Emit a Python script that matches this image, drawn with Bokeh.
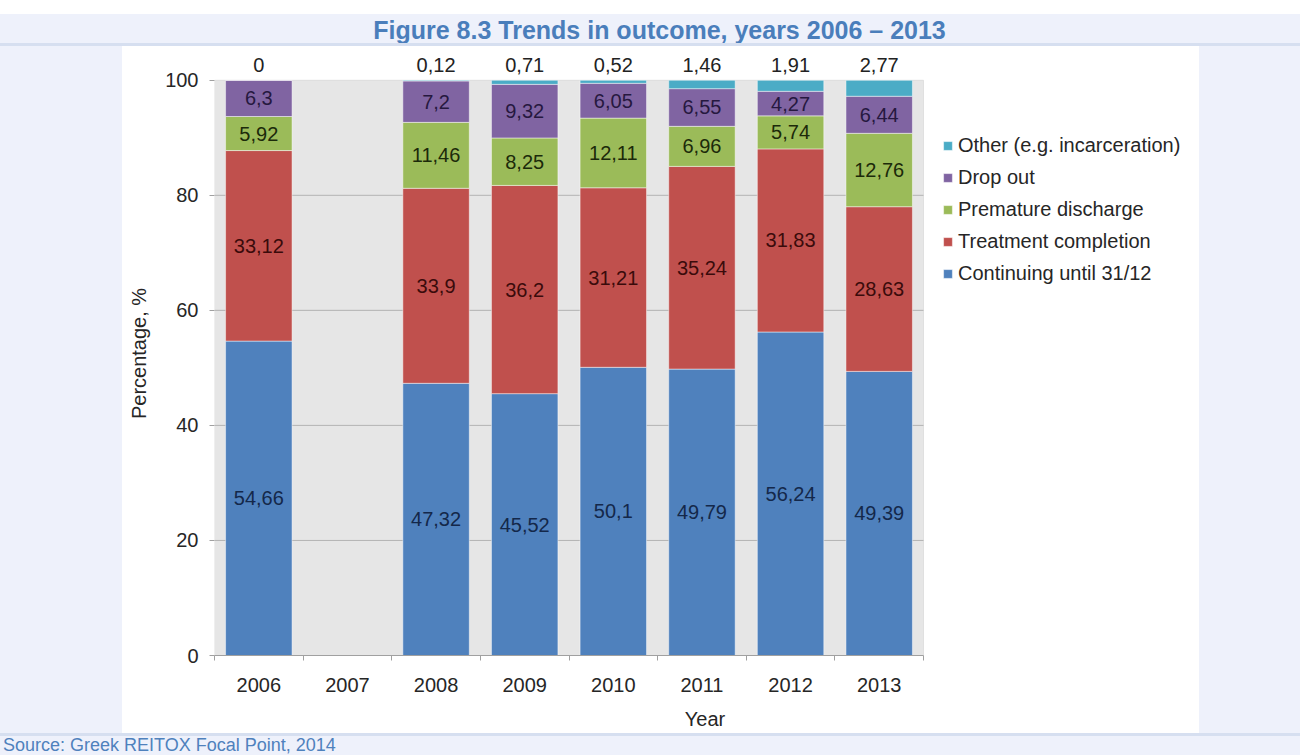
from bokeh.plotting import figure
from bokeh.models import (Range1d, FixedTicker, ColumnDataSource, Legend,
                          LegendItem, Div, BoxAnnotation)
from bokeh.layouts import column, row
from bokeh.core.properties import value
from bokeh.embed import file_html
from bokeh.resources import INLINE

# ---------------- data ----------------
years = ["2006", "2007", "2008", "2009", "2010", "2011", "2012", "2013"]
continuing = [54.66, None, 47.32, 45.52, 50.1, 49.79, 56.24, 49.39]
treatment = [33.12, None, 33.9, 36.2, 31.21, 35.24, 31.83, 28.63]
premature = [5.92, None, 11.46, 8.25, 12.11, 6.96, 5.74, 12.76]
dropout = [6.3, None, 7.2, 9.32, 6.05, 6.55, 4.27, 6.44]
other = [0, None, 0.12, 0.71, 0.52, 1.46, 1.91, 2.77]

series_names = ["Continuing until 31/12", "Treatment completion",
                "Premature discharge", "Drop out", "Other (e.g. incarceration)"]
y_ticks = [0, 20, 40, 60, 80, 100]
title_text = "Figure 8.3 Trends in outcome, years 2006 \u2013 2013"
source_text = "Source: Greek REITOX Focal Point, 2014"

# ---------------- styles / layout ----------------
colors = ["#4f81bd", "#c0504d", "#9bbb59", "#8064a2", "#4bacc6"]
label_colors = ["#14284a", "#3a0b0b", "#1c2a0a", "#26183f"]
FONT = "Liberation Sans"
LAV = "#eef1fb"
LINE = "#d6dff0"
BLUE_T = "#4a7ebb"
TXT = "#262626"

P_W, P_H = 1077, 687          # white chart panel
B_L, B_R, B_T, B_B = 92, 4, 5, 78
AREA_W = 709                  # width of grey plotting area in px
FRAME_W = P_W - B_L - B_R
n = len(years)
x_lo = -0.5
x_hi = x_lo + n * FRAME_W / AREA_W
y_hi = 105

series = [continuing, treatment, premature, dropout, other]
keys = ["s0", "s1", "s2", "s3", "s4"]
idx = [i for i, v in enumerate(continuing) if v is not None]

def fmt(v):
    return f"{v:g}".replace(".", ",")

data = {"x": idx}
for k, s in zip(keys, series):
    data[k] = [s[i] for i in idx]
src = ColumnDataSource(data)

# inner segment labels at segment centres
lx, ly, lt, lc = [], [], [], []
for i in idx:
    base = 0.0
    for j in range(4):
        v = series[j][i]
        lx.append(i)
        ly.append(base + v / 2.0)
        lt.append(fmt(v))
        lc.append(label_colors[j])
        base += v
lab_src = ColumnDataSource(dict(x=lx, y=ly, text=lt, color=lc))

top_src = ColumnDataSource(dict(x=idx, y=[100] * len(idx),
                                text=[fmt(other[i]) for i in idx]))

p = figure(width=P_W, height=P_H, x_range=Range1d(x_lo, x_hi), y_range=Range1d(0, y_hi),
           output_backend="svg", toolbar_location=None,
           min_border_left=B_L, min_border_right=B_R, min_border_top=B_T,
           min_border_bottom=B_B,
           background_fill_color="white", border_fill_color="white",
           outline_line_color=None)

x_end = x_lo + n
# grey plotting area with border
p.add_layout(BoxAnnotation(left=x_lo, right=x_end, bottom=0, top=100,
                           fill_color="#e6e6e6", fill_alpha=1,
                           line_color="#b5b5b5", line_width=1, level="image"))

# horizontal gridlines inside the grey area
gy = y_ticks[1:-1]
p.segment(x0=[x_lo] * len(gy), x1=[x_end] * len(gy), y0=gy, y1=gy,
          line_color="#b3b3b3", line_width=1)

rs = p.vbar_stack(keys, x="x", width=0.75, color=colors, source=src,
                  line_color="white", line_alpha=0.6, line_width=0.8)

p.text(x="x", y="y", text="text", source=lab_src, text_color="color",
       text_font=value(FONT), text_font_size="20px", text_align="center",
       text_baseline="middle")

p.text(x="x", y="y", text="text", source=top_src, text_color="#222222",
       text_font=value(FONT), text_font_size="20px", text_align="center",
       text_baseline="bottom", y_offset=-8)

# axes
xa = p.xaxis[0]
xa.bounds = (x_lo, x_end)
xa.ticker = FixedTicker(ticks=list(range(n)),
                        minor_ticks=[i - 0.5 for i in range(n + 1)])
xa.major_label_overrides = {i: y for i, y in enumerate(years)}
xa.major_tick_line_color = None
xa.major_tick_out = 0
xa.major_tick_in = 0
xa.minor_tick_out = 5
xa.minor_tick_in = 0
xa.minor_tick_line_color = "#a0a0a0"
xa.axis_line_color = "#a0a0a0"
xa.major_label_standoff = 17
xa.axis_label = "Year"
xa.axis_label_standoff = 13

ya = p.yaxis[0]
ya.bounds = (0, 100)
ya.ticker = FixedTicker(ticks=y_ticks)
ya.major_tick_out = 5
ya.major_tick_in = 0
ya.major_tick_line_color = "#a0a0a0"
ya.minor_tick_line_color = None
ya.axis_line_color = None
ya.major_label_standoff = 11
ya.axis_label = "Percentage, %"
ya.axis_label_standoff = 12

for ax in (xa, ya):
    ax.major_label_text_font = FONT
    ax.major_label_text_font_size = "20px"
    ax.major_label_text_color = TXT
    ax.axis_label_text_font = FONT
    ax.axis_label_text_font_size = "20px"
    ax.axis_label_text_font_style = "normal"
    ax.axis_label_text_color = TXT

p.xgrid.grid_line_color = None
p.ygrid.grid_line_color = None

items = [LegendItem(label=series_names[k], renderers=[rs[k]]) for k in range(4, -1, -1)]
legend = Legend(items=items, location=(AREA_W + 19, 370), orientation="vertical",
                border_line_color=None, background_fill_alpha=0,
                label_text_font=FONT, label_text_font_size="20px",
                label_text_color=TXT, glyph_width=11, glyph_height=11,
                label_height=24, spacing=8, padding=0, margin=0, label_standoff=5)
p.add_layout(legend)

# ---------------- page frame ----------------
PAGE_W = 1300

def band(w, h, **st):
    return Div(text="", width=w, height=h, margin=0, styles=st)

top_space = band(PAGE_W, 14, **{"background-color": "white"})
title_div = Div(text=title_text, width=PAGE_W, height=29, margin=0,
                styles={"background-color": LAV, "color": BLUE_T,
                        "font-family": f"'{FONT}', Arial, sans-serif",
                        "font-weight": "bold", "font-size": "25px",
                        "text-align": "center", "line-height": "29px",
                        "padding-left": "19px", "padding-top": "2px",
                        "box-sizing": "border-box",
                        "overflow": "visible", "white-space": "nowrap"})
line1 = band(PAGE_W, 3, **{"background-color": LINE})
left_div = band(122, P_H, **{"background-color": LAV})
right_div = band(PAGE_W - 122 - P_W, P_H, **{"background-color": LAV})
line2 = band(PAGE_W, 3, **{"background-color": LINE})
source_div = Div(text=source_text, width=PAGE_W, height=19, margin=0,
                 styles={"background-color": LAV, "color": "#4f81bd",
                         "font-family": f"'{FONT}', Arial, sans-serif",
                         "font-size": "18px", "line-height": "19px",
                         "padding-left": "3px",
                         "box-sizing": "border-box",
                         "overflow": "visible", "white-space": "nowrap"})

layout = column(top_space, title_div, line1,
                row(left_div, p, right_div, spacing=0),
                line2, source_div, spacing=0)

open("out.html", "w").write(file_html(layout, INLINE))
